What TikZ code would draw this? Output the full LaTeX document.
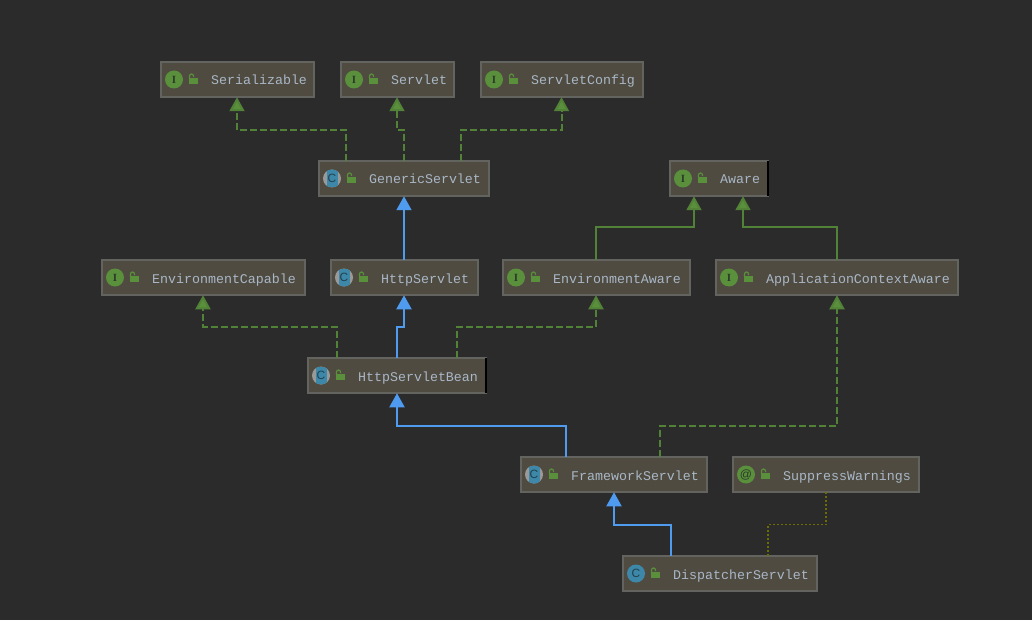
\documentclass[tikz,border=0pt]{standalone}
\usepackage{fontspec}
\setmonofont{Liberation Mono}
\setsansfont{Liberation Sans}
\setmainfont{Liberation Serif}
\usepackage{xcolor}
\usepackage{tikz}
\usetikzlibrary{arrows.meta}

\definecolor{canvasbg}{HTML}{2B2B2B}
\definecolor{boxfill}{HTML}{4F4B41}
\definecolor{boxline}{HTML}{636360}
\definecolor{labeltext}{HTML}{A9B7C6}
\definecolor{ifacegreen}{HTML}{5A8F3C}
\definecolor{linkgreen}{HTML}{528238}
\definecolor{extendblue}{HTML}{4F9BF0}
\definecolor{classteal}{HTML}{3D88A8}
\definecolor{badgeink}{HTML}{2A3A2A}
\definecolor{classink}{HTML}{22404F}
\definecolor{dotolive}{HTML}{6E6E00}

\tikzset{
    umlbox/.style={draw=boxline, fill=boxfill, line width=2pt, minimum height=35.5pt, inner sep=0pt, outer sep=0pt},
    umltext/.style={text=labeltext, anchor=base west, inner sep=0pt, font=\ttfamily\fontsize{13.3}{16}\selectfont},
    ifacebadge/.style={circle, fill=ifacegreen, minimum size=18pt, inner sep=0pt, text=badgeink, font=\rmfamily\bfseries\fontsize{11}{12}\selectfont},
    atbadge/.style={ifacebadge, font=\sffamily\fontsize{12}{12}\selectfont},
    classbadge/.style={circle, fill=classteal, minimum size=18pt, inner sep=0pt, text=classink, font=\sffamily\fontsize{12}{12}\selectfont},
    abstractbadge/.style={classbadge, fill=gray!80, path picture={\fill[classteal] ([xshift=-5.5pt]path picture bounding box.south) rectangle ([xshift=5.5pt]path picture bounding box.north);}},
    implements/.style={draw=linkgreen, line width=2pt, dash pattern=on 7pt off 3pt, -{Triangle[length=14pt,width=15pt,fill=ifacegreen]}},
    interfaceext/.style={draw=linkgreen, line width=2pt, -{Triangle[length=14pt,width=15pt,fill=ifacegreen]}},
    extends/.style={draw=extendblue, line width=2pt, -{Triangle[length=14pt,width=15pt,fill=extendblue]}},
    annotated/.style={draw=dotolive, line width=1.3pt, dash pattern=on 2pt off 2pt},
}

% name, x, y, width, badge, letter, text
\newcommand{\umlclass}[7]{
    \node[umlbox, minimum width=#4pt] (#1) at (#2,#3) {};
    \node[#5] (#1-badge) at ([xshift=13.5pt]#1.west) {#6};
    \node[umltext] (#1-text) at ([xshift=50.5pt,yshift=-5.5pt]#1.west) {#7};
    \fill[ifacegreen] ([xshift=28.5pt,yshift=1.5pt]#1.west) rectangle ([xshift=37.5pt,yshift=-4.5pt]#1.west);
    \draw[ifacegreen, line width=1.2pt] ([xshift=29pt,yshift=1pt]#1.west) -- ([xshift=29pt,yshift=3.5pt]#1.west) arc[start angle=180, end angle=0, radius=2pt] -- ++(0,1);
}

\begin{document}
\begin{tikzpicture}[x=1pt, y=-1pt]
    \fill[canvasbg] (0,0) rectangle (1032,620);
    \useasboundingbox (0,0) rectangle (1032,620);

    % Interfaces on top
    \umlclass{serializable}{237}{79.5}{153}{ifacebadge}{I}{Serializable}
    \umlclass{servlet}{397}{79.5}{113}{ifacebadge}{I}{Servlet}
    \umlclass{servletconfig}{561.5}{79.5}{162}{ifacebadge}{I}{ServletConfig}
    \umlclass{aware}{718.5}{178.5}{98}{ifacebadge}{I}{Aware}

    % Middle rows
    \umlclass{genericservlet}{403.5}{178.5}{170}{abstractbadge}{C}{GenericServlet}
    \umlclass{environmentcapable}{203}{277.5}{203}{ifacebadge}{I}{EnvironmentCapable}
    \umlclass{httpservlet}{404}{277.5}{147}{abstractbadge}{C}{HttpServlet}
    \umlclass{environmentaware}{596}{277.5}{187}{ifacebadge}{I}{EnvironmentAware}
    \umlclass{applicationaware}{836.5}{277.5}{242}{ifacebadge}{I}{ApplicationContextAware}
    \umlclass{servletbean}{396.5}{375.5}{178}{abstractbadge}{C}{HttpServletBean}

    % Bottom rows
    \umlclass{frameworkservlet}{613.5}{474.5}{186}{abstractbadge}{C}{FrameworkServlet}
    \umlclass{suppresswarnings}{825.5}{474.5}{186}{atbadge}{@}{SuppressWarnings}
    \umlclass{dispatcherservlet}{719.5}{573.5}{194}{classbadge}{C}{DispatcherServlet}

    % Dark right edges
    \draw[black, line width=2pt] (aware.north east) -- (aware.south east);
    \draw[black, line width=2pt] (servletbean.north east) -- (servletbean.south east);

    % GenericServlet links
    \draw[implements] ([xshift=-57.5pt]genericservlet.north) -- ++(0,-31) -| (serializable.south);
    \draw[implements] ([xshift=.5pt]genericservlet.north) -- ++(0,-31) -| (servlet.south);
    \draw[implements] ([xshift=57.5pt]genericservlet.north) -- ++(0,-31) -| (servletconfig.south);
    \draw[extends] (httpservlet.north) -- ([xshift=.5pt]genericservlet.south);

    % Aware links
    \draw[interfaceext] (environmentaware.north) -- ++(0,-33) -| ([xshift=-24.5pt]aware.south);
    \draw[interfaceext] ([xshift=.5pt]applicationaware.north) -- ++(0,-33) -| ([xshift=24.5pt]aware.south);

    % HttpServletBean links
    \draw[implements] ([xshift=-60pt]servletbean.north) -- ++(0,-31) -| (environmentcapable.south);
    \draw[extends] ([xshift=.5pt]servletbean.north) -- ++(0,-31) -| (httpservlet.south);
    \draw[implements] ([xshift=60.5pt]servletbean.north) -- ++(0,-31) -| (environmentaware.south);

    % FrameworkServlet links
    \draw[extends] ([xshift=-47.5pt]frameworkservlet.north) -- ++(0,-31) -| ([xshift=.5pt]servletbean.south);
    \draw[implements] ([xshift=46.5pt]frameworkservlet.north) -- ++(0,-31) -| ([xshift=.5pt]applicationaware.south);

    % DispatcherServlet links
    \draw[extends] ([xshift=-48.5pt]dispatcherservlet.north) -- ++(0,-31) -| ([xshift=.5pt]frameworkservlet.south);
    \draw[annotated] ([xshift=48.5pt]dispatcherservlet.north) -- ++(0,-31) -| ([xshift=.5pt]suppresswarnings.south);
\end{tikzpicture}
\end{document}
